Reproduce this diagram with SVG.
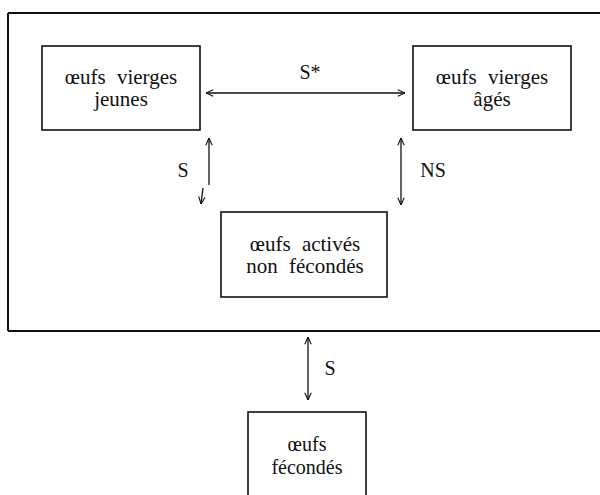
<svg xmlns="http://www.w3.org/2000/svg" width="600" height="495" viewBox="0 0 600 495">
<defs>
<marker id="ah" viewBox="0 0 10 10" refX="10" refY="5" markerWidth="8" markerHeight="8" markerUnits="userSpaceOnUse" orient="auto-start-reverse">
<path d="M1,1 L10,5 L1,9" fill="none" stroke="#111" stroke-width="1.4"/>
</marker>
</defs>
<style>
.box{fill:#fff;stroke:#111;stroke-width:1.6}
.frame{fill:none;stroke:#111;stroke-width:2}
.conn{fill:none;stroke:#111;stroke-width:1.3;marker-start:url(#ah);marker-end:url(#ah)}
text{font-family:'Liberation Serif','Times New Roman',serif;font-size:21px;fill:#111;text-anchor:middle;word-spacing:6px}
.lbl{font-size:20px}
.sm{font-size:20px}
</style>
<rect width="600" height="495" fill="#fff"/>
<g id="frame">
<path class="frame" d="M8,13 L600,13 M8,13 L8,331 M8,331 L600,331"/>
</g>
<g id="n1">
<rect class="box" x="42" y="46" width="158" height="84"/>
<text x="121" y="84">œufs vierges</text>
<text x="121" y="106">jeunes</text>
</g>
<g id="n2">
<rect class="box" x="413" y="46" width="158" height="84"/>
<text x="492" y="84">œufs vierges</text>
<text x="492" y="106">âgés</text>
</g>
<g id="n3">
<rect class="box" x="221" y="212" width="166" height="85"/>
<text x="305" y="251">œufs activés</text>
<text x="305" y="273">non fécondés</text>
</g>
<g id="n4">
<rect class="box" x="248" y="412" width="118" height="100"/>
<text class="sm" x="307" y="451">œufs</text>
<text class="sm" x="307" y="474">fécondés</text>
</g>
<g id="connectors">
<path class="conn" d="M206,93 L405,93"/>
<path class="conn" d="M209,138 L209,185 M203,188 L201,204"/>
<path class="conn" d="M401,138 L401,205"/>
<path class="conn" d="M308,337 L308,400"/>
<text class="lbl" x="310" y="79">S*</text>
<text class="lbl" x="183" y="177">S</text>
<text class="lbl" x="433" y="177">NS</text>
<text class="lbl" x="330" y="375">S</text>
</g>
</svg>
